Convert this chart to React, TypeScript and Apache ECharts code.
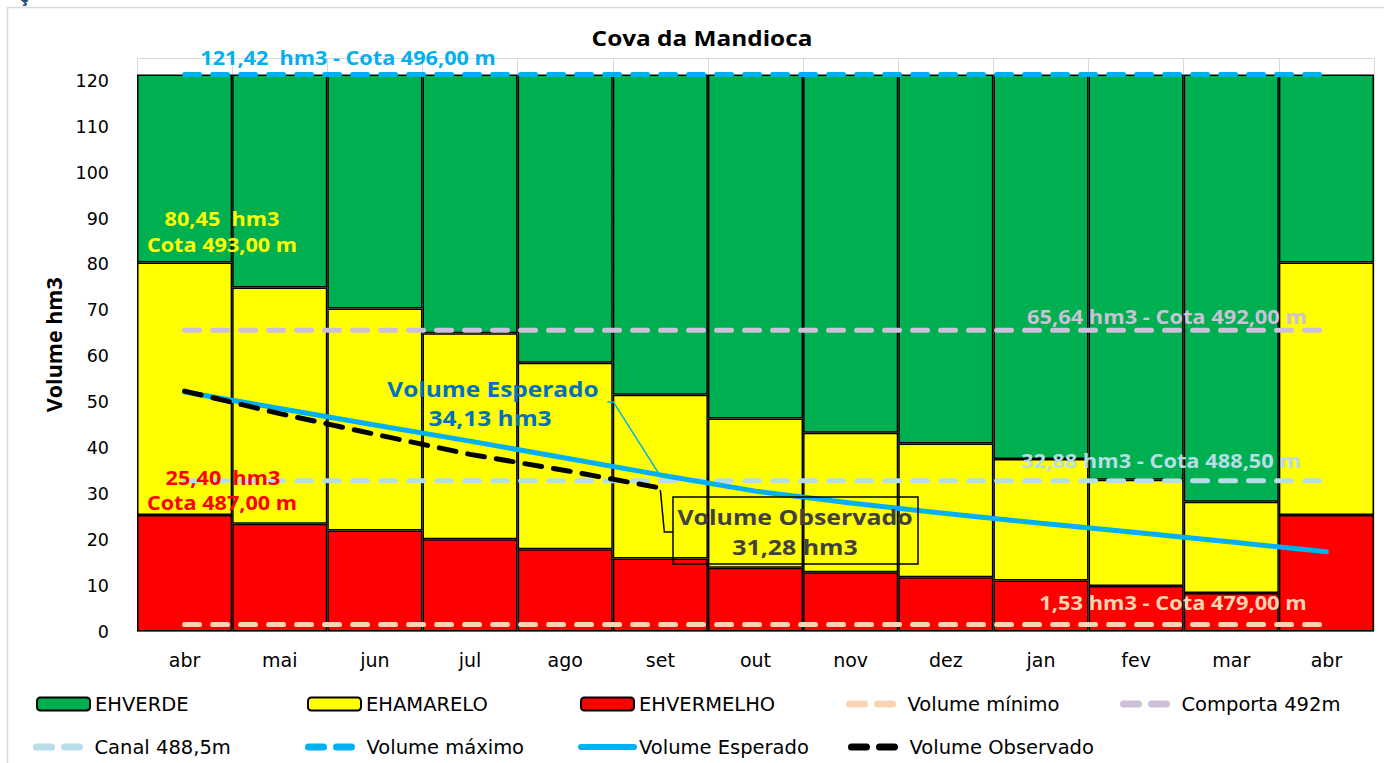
import React, { useEffect, useRef } from 'react';
import * as echarts from 'echarts';

const categories = ['abr', 'mai', 'jun', 'jul', 'ago', 'set', 'out', 'nov', 'dez', 'jan', 'fev', 'mar', 'abr'];
// top of the red band (EHVERMELHO), hm3
const redTop = [25.4, 23.5, 22.0, 20.1, 17.9, 15.9, 13.9, 12.9, 11.8, 11.1, 9.9, 8.4, 25.4];
// top of the yellow band (EHAMARELO), hm3
const yellowTop = [80.45, 75.0, 70.4, 65.0, 58.6, 51.6, 46.4, 43.3, 41.0, 37.6, 33.1, 28.3, 80.45];
const volumeMaximo = 121.42;
const volumeMinimo = 1.53;
const comporta492 = 65.64;
const canal4885 = 32.88;
const volumeEsperado = [52.2, 48.6, 45.0, 41.5, 37.8, 34.13, 30.6, 28.0, 25.7, 23.6, 21.6, 19.5, 17.4];
const volumeObservado = [52.4, 47.5, 43.0, 38.6, 35.1, 31.28, null, null, null, null, null, null, null];
const yTicks = { min: 0, max: 125, interval: 10 };

export default function App() {
  const ref = useRef<HTMLDivElement>(null);
  useEffect(() => {
    const chart = echarts.init(ref.current!, null, { renderer: 'svg' });
    const FONT = 'Open Sans';
    const AXFONT = 'DejaVu Sans';
    const ehVermelho = redTop;
    const ehAmarelo = yellowTop.map((v, i) => +(v - redTop[i]).toFixed(2));
    const ehVerde = yellowTop.map((v) => +(volumeMaximo - v).toFixed(2));
    const constLine = (v: number) => categories.map(() => v);
    const halfCats = categories.flatMap((c, i) => [c + i + 'a', c + i + 'b']);

    const legendBase = {
      orient: 'horizontal',
      itemWidth: 53,
      itemHeight: 13,
      padding: 0,
      selectedMode: false,
      textStyle: { fontSize: 19.5, color: '#000', fontFamily: AXFONT },
    };
    const mkLegend = (name: string, left: number, top: number, extra: any = {}) => ({
      ...legendBase,
      data: [name],
      left,
      top,
      ...extra,
    });
    const pill = (extra: any = {}) => ({
      lineStyle: { width: 7, type: [15, 13], cap: 'round', ...extra },
      itemStyle: { opacity: 0 },
    });

    const lineSeries = (name: string, data: any[], color: string, width: number, type: any, z: number) => ({
      name,
      type: 'line',
      data,
      symbol: 'none',
      z,
      lineStyle: { color, width, type, cap: 'round' },
      itemStyle: { color },
      emphasis: { disabled: true },
    });

    const option: any = {
      animation: false,
      backgroundColor: '#fff',
      textStyle: { fontFamily: FONT },
      grid: { left: 137, right: 10, top: 58, bottom: 131.5 },
      xAxis: [
        {
          type: 'category',
          data: categories,
          boundaryGap: true,
          axisLine: { lineStyle: { color: '#BFBFBF', width: 1 } },
          axisTick: { show: false },
          axisLabel: { color: '#000', fontSize: 19, margin: 19, fontFamily: AXFONT },
          splitLine: { show: false },
        },
        {
          type: 'category',
          data: halfCats,
          position: 'bottom',
          boundaryGap: true,
          axisLine: { show: false },
          axisTick: { show: false },
          axisLabel: { show: false },
          splitLine: { show: true, lineStyle: { color: '#D9D9D9', width: 1 } },
        },
      ],
      yAxis: {
        type: 'value',
        min: yTicks.min,
        max: yTicks.max,
        interval: yTicks.interval,
        axisLine: { show: false },
        axisTick: { show: false },
        axisLabel: { showMaxLabel: false, color: '#000', fontSize: 17.5, margin: 28, fontFamily: AXFONT },
        splitLine: { show: true, lineStyle: { color: '#D9D9D9' } },
        name: 'Volume hm3',
        nameLocation: 'middle',
        nameGap: 72,
        nameTextStyle: { fontWeight: 'bold', fontSize: 21.5, color: '#000', fontFamily: FONT },
      },
      legend: [
        mkLegend('EHVERDE', 36, 694),
        mkLegend('EHAMARELO', 307, 694),
        mkLegend('EHVERMELHO', 580, 694),
        mkLegend('Volume mínimo', 846, 694, pill()),
        mkLegend('Comporta 492m', 1120, 694, pill()),
        mkLegend('Canal 488,5m', 33, 737, pill()),
        mkLegend('Volume máximo', 305, 737, pill()),
        mkLegend('Volume Esperado', 578, 737, { lineStyle: { width: 6, type: 'solid', cap: 'round' }, itemStyle: { opacity: 0 } }),
        mkLegend('Volume Observado', 848, 737, pill()),
      ],
      series: [
        {
          name: 'EHVERMELHO',
          type: 'bar',
          stack: 'eh',
          data: ehVermelho,
          barCategoryGap: '0%',
          itemStyle: { color: '#FF0000', borderColor: '#000', borderWidth: 1.5 },
          emphasis: { disabled: true },
        },
        {
          name: 'EHAMARELO',
          type: 'bar',
          stack: 'eh',
          data: ehAmarelo,
          barCategoryGap: '0%',
          itemStyle: { color: '#FFFF00', borderColor: '#000', borderWidth: 1.5 },
          emphasis: { disabled: true },
        },
        {
          name: 'EHVERDE',
          type: 'bar',
          stack: 'eh',
          data: ehVerde,
          barCategoryGap: '0%',
          itemStyle: { color: '#00B050', borderColor: '#000', borderWidth: 1.5 },
          emphasis: { disabled: true },
        },
        lineSeries('Volume mínimo', constLine(volumeMinimo), '#FBD4B4', 5, [15, 13], 3),
        lineSeries('Comporta 492m', constLine(comporta492), '#CCC0DA', 5, [15, 13], 3),
        lineSeries('Canal 488,5m', constLine(canal4885), '#B7DEE8', 5, [15, 13], 3),
        lineSeries('Volume máximo', constLine(volumeMaximo), '#00B0F0', 5, [15, 13], 3),
        lineSeries('Volume Esperado', volumeEsperado, '#00B0F0', 5, 'solid', 4),
        lineSeries('Volume Observado', volumeObservado, '#000000', 5, [17, 12], 5),
      ],
    };
    chart.setOption(option);

    const pE = chart.convertToPixel({ xAxisIndex: 0, yAxisIndex: 0 }, [5, volumeEsperado[5]]) as number[];
    const pO = chart.convertToPixel({ xAxisIndex: 0, yAxisIndex: 0 }, [5, volumeObservado[5] as number]) as number[];

    const txt = (id: string, text: string, x: number, y: number, fill: string, size: number, sx = 1.12, align = 'center') => ({
      type: 'text',
      id,
      z: 50,
      x,
      y,
      scaleX: sx,
      scaleY: 1,
      style: {
        text,
        fill,
        fontSize: size,
        fontWeight: 'bold',
        fontFamily: FONT,
        align,
        verticalAlign: 'middle',
        textAlign: align,
        textVerticalAlign: 'middle',
      },
    });

    chart.setOption({
      graphic: [
        {
          type: 'rect',
          id: 'frame',
          z: 0,
          shape: { x: 7.5, y: 7.5, width: 1400, height: 800 },
          style: { fill: 'none', stroke: '#D9D9D9', lineWidth: 1.5 },
        },
        txt('frag', 'ç', 24, -5, '#1F4E79', 18, 1),
        txt('title', 'Cova da Mandioca', 702, 38, '#000', 21, 1.16),
        txt('tMax', '121,42  hm3 - Cota 496,00 m', 348, 57, '#00B0F0', 19.5, 1.11),
        txt('tY1', '80,45  hm3', 222, 218, '#FFFF00', 19.5, 1.11),
        txt('tY2', 'Cota 493,00 m', 222, 244, '#FFFF00', 19.5, 1.11),
        txt('tR1', '25,40  hm3', 223, 477, '#FF0000', 19.5, 1.11),
        txt('tR2', 'Cota 487,00 m', 222, 502, '#FF0000', 19.5, 1.11),
        txt('tComp', '65,64 hm3 - Cota 492,00 m', 1167, 316, '#CCC0DA', 19.5, 1.12),
        txt('tCanal', '32,88 hm3 - Cota 488,50 m', 1161, 460, '#B7DEE8', 19.5, 1.12),
        txt('tMin', '1,53 hm3 - Cota 479,00 m', 1173, 602, '#FBD4B4', 19.5, 1.12),
        txt('tE1', 'Volume Esperado', 493, 388, '#0070C0', 22, 1.11),
        txt('tE2', '34,13 hm3', 490, 417, '#0070C0', 22, 1.11),
        {
          type: 'polyline',
          id: 'leadE',
          z: 45,
          shape: { points: [[pE[0] - 2, pE[1] - 2], [pE[0] - 47, pE[1] - 73], [pE[0] - 53, pE[1] - 73]] },
          style: { stroke: '#00B0F0', lineWidth: 1.5, fill: 'none' },
        },
        {
          type: 'rect',
          id: 'boxO',
          z: 45,
          shape: { x: 673, y: 497, width: 245, height: 67 },
          style: { fill: 'none', stroke: '#000', lineWidth: 1.5 },
        },
        {
          type: 'polyline',
          id: 'leadO',
          z: 45,
          shape: { points: [[pO[0], pO[1] + 2], [pO[0] + 4, pO[1] + 44], [673, pO[1] + 44]] },
          style: { stroke: '#000', lineWidth: 1.5, fill: 'none' },
        },
        txt('tO1', 'Volume Observado', 795, 517, '#404040', 22, 1.13),
        txt('tO2', '31,28 hm3', 795, 547, '#404040', 22, 1.13),
      ],
    });

    return () => chart.dispose();
  }, []);
  return <div ref={ref} style={{ position: 'fixed', left: 0, top: 0, width: 1384, height: 763 }} />;
}
